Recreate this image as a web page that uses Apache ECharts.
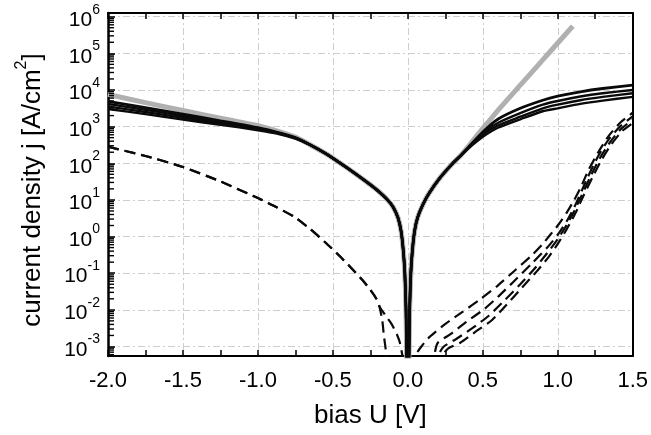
<!DOCTYPE html>
<html>
<head>
<meta charset="utf-8">
<script src="https://cdn.jsdelivr.net/npm/echarts@6/dist/echarts.min.js"></script>
<style>
html,body{margin:0;padding:0;background:#fff;}
#chart{width:651px;height:435px;}
</style>
</head>
<body>
<div id="chart"></div>
<script>
// ---- data (bias U in V, current density j in A/cm^2) ----
const voltsSolid = [-2.0, -1.75, -1.5, -1.25, -1.125, -1.0, -0.875, -0.75, -0.65, -0.55, -0.45, -0.35, -0.25, -0.2, -0.14, -0.1, -0.065, -0.045, -0.03, -0.02, -0.012, -0.006, 0, 0.006, 0.012, 0.02, 0.03, 0.045, 0.065, 0.1, 0.14, 0.21, 0.3, 0.35, 0.4, 0.5, 0.6, 0.75, 0.9, 1.0, 1.15, 1.3, 1.5];
const solidA = [4900, 3310, 2190, 1445, 1175, 933, 708, 501, 316, 186, 100, 52, 26, 17.8, 10.5, 6.6, 3.2, 1.41, 0.4, 0.1, 0.01, 0.0001, 1e-9, 0.0001, 0.01, 0.1, 0.4, 1.41, 3.3, 7.4, 14.8, 38, 100, 158, 263, 708, 1585, 3160, 5250, 6760, 8910, 10960, 13490];
const solidB = [4170, 2880, 1950, 1350, 1100, 891, 692, 490, 316, 186, 100, 52, 26, 17.8, 10.5, 6.6, 3.2, 1.41, 0.4, 0.1, 0.01, 0.0001, 1e-9, 0.0001, 0.01, 0.1, 0.4, 1.41, 3.3, 7.4, 14.8, 38, 100, 158, 257, 660, 1260, 2340, 3980, 5010, 6610, 8130, 10000];
const solidC = [3550, 2510, 1740, 1230, 1020, 851, 676, 479, 316, 186, 100, 52, 26, 17.8, 10.5, 6.6, 3.2, 1.41, 0.4, 0.1, 0.01, 0.0001, 1e-9, 0.0001, 0.01, 0.1, 0.4, 1.41, 3.3, 7.4, 14.8, 38, 100, 158, 251, 600, 1070, 1860, 3160, 3980, 5250, 6460, 8130];
const solidD = [3020, 2190, 1550, 1120, 955, 794, 646, 468, 316, 186, 100, 52, 26, 17.8, 10.5, 6.6, 3.2, 1.41, 0.4, 0.1, 0.01, 0.0001, 1e-9, 0.0001, 0.01, 0.1, 0.4, 1.41, 3.3, 7.4, 14.8, 38, 100, 158, 245, 525, 933, 1585, 2630, 3160, 4170, 5130, 6460];

const voltsGray = [-2.0, -1.75, -1.5, -1.25, -1.125, -1.0, -0.875, -0.75, -0.65, -0.55, -0.45, -0.35, -0.25, -0.2, -0.14, -0.1, -0.065, -0.045, -0.03, -0.02, -0.012, -0.006, 0, 0.006, 0.012, 0.02, 0.03, 0.045, 0.065, 0.1, 0.14, 0.21, 0.3, 0.35, 0.4, 0.45, 0.5, 0.6, 0.75, 0.9, 1.0, 1.1];
const grayJ = [7600, 4500, 2750, 1700, 1340, 1060, 765, 515, 316, 186, 100, 52, 26, 17.8, 10.5, 6.6, 3.2, 1.41, 0.4, 0.1, 0.01, 0.0001, 1e-9, 0.0001, 0.01, 0.1, 0.4, 1.41, 3.3, 7.4, 14.8, 38, 100, 158, 275, 500, 891, 2750, 13500, 66000, 191000, 550000];

const dashNegVoltsA = [-2.0, -1.75, -1.5, -1.25, -1.0, -0.875, -0.75, -0.65, -0.55, -0.45, -0.365, -0.3, -0.25, -0.21, -0.19, -0.17, -0.16, -0.15, -0.14, -0.13];
const dashNegA = [282, 158, 79, 32, 11.2, 6.3, 3.3, 1.58, 0.69, 0.28, 0.123, 0.063, 0.035, 0.02, 0.0126, 0.005, 0.002, 0.001, 0.0004, 0.00001];
const dashNegVoltsB = [-2.0, -1.75, -1.5, -1.25, -1.0, -0.875, -0.75, -0.65, -0.55, -0.45, -0.365, -0.3, -0.25, -0.21, -0.19, -0.15, -0.107, -0.07, -0.053, -0.035, -0.02];
const dashNegB = [282, 158, 79, 32, 11.2, 6.3, 3.3, 1.58, 0.69, 0.28, 0.123, 0.063, 0.035, 0.02, 0.0126, 0.0071, 0.004, 0.002, 0.00126, 0.0005, 0.00001];

const dash1Volts = [0.045, 0.06, 0.1, 0.147, 0.253, 0.367, 0.48, 0.6, 0.71, 0.83, 0.9, 0.95, 1.0, 1.06, 1.11, 1.16, 1.2, 1.27, 1.34, 1.42, 1.5];
const dash1J = [0.00001, 0.00063, 0.00112, 0.00186, 0.0042, 0.0089, 0.019, 0.046, 0.115, 0.316, 0.63, 1.12, 2.0, 4.5, 10, 25, 59, 200, 562, 1320, 2400];
const dash2Volts = [0.17, 0.18, 0.2, 0.29, 0.39, 0.51, 0.6, 0.7, 0.83, 0.93, 1.0, 1.06, 1.11, 1.16, 1.2, 1.27, 1.34, 1.42, 1.5];
const dash2J = [0.00001, 0.00063, 0.00126, 0.00224, 0.0047, 0.0105, 0.0224, 0.056, 0.19, 0.5, 1.12, 2.63, 6.3, 17.8, 42, 158, 450, 1050, 1900];
const dash3Volts = [0.2, 0.21, 0.24, 0.32, 0.43, 0.54, 0.65, 0.75, 0.85, 0.93, 1.0, 1.06, 1.11, 1.16, 1.22, 1.28, 1.35, 1.42, 1.5];
const dash3J = [0.00001, 0.00063, 0.001, 0.00158, 0.00316, 0.0069, 0.019, 0.05, 0.141, 0.355, 0.85, 2.1, 5.0, 13.5, 45, 135, 380, 850, 1550];
const dash4Volts = [0.23, 0.24, 0.27, 0.35, 0.45, 0.56, 0.66, 0.76, 0.86, 0.94, 1.0, 1.06, 1.12, 1.17, 1.23, 1.29, 1.36, 1.43, 1.5];
const dash4J = [0.00001, 0.00063, 0.00089, 0.00126, 0.0025, 0.0052, 0.014, 0.04, 0.112, 0.28, 0.63, 1.6, 4.5, 12.6, 40, 120, 340, 760, 1250];

const xTicks = { min: -2.0, max: 1.5, step: 0.5 };
const yRange = { min: 5.5e-4, max: 1.26e6 };
const yDecades = [-4, -3, -2, -1, 0, 1, 2, 3, 4, 5, 6];
const yMinorMultipliers = [2, 3, 4, 5, 6, 7, 8, 9];

// ---- build ----
function pairs(xs, ys) { return xs.map((x, i) => [x, ys[i]]); }

const FONT = '"Liberation Sans", Arial, Helvetica, sans-serif';
const gridLine = { show: true, lineStyle: { color: '#cdcdcd', width: 1, type: [7, 3, 2, 3] } };

function solid(data, w) {
  return { type: 'line', data: data, showSymbol: false, symbol: 'none', smooth: 0.2,
    lineStyle: { color: '#0a0a0a', width: w }, z: 3, animation: false, silent: true };
}
function dashed(data) {
  return { type: 'line', data: data, showSymbol: false, symbol: 'none', smooth: 0.2,
    lineStyle: { color: '#0a0a0a', width: 2.2, type: [11, 6] }, z: 4, animation: false, silent: true };
}

// minor tick positions of the log axis (axis decoration only)
const minorTickValues = [];
yDecades.forEach(d => yMinorMultipliers.forEach(m => {
  const v = m * Math.pow(10, d);
  if (v > yRange.min && v < yRange.max) minorTickValues.push([xTicks.min, v]);
}));

const series = [
  { type: 'line', data: pairs(voltsGray, grayJ), showSymbol: false, symbol: 'none', smooth: 0.2,
    lineStyle: { color: '#b0b0b0', width: 5, cap: 'butt' }, z: 2, animation: false, silent: true },
  solid(pairs(voltsSolid, solidA), 2.8),
  solid(pairs(voltsSolid, solidB), 2.4),
  solid(pairs(voltsSolid, solidC), 2.4),
  solid(pairs(voltsSolid, solidD), 2.4),
  dashed(pairs(dashNegVoltsA, dashNegA)),
  dashed(pairs(dashNegVoltsB, dashNegB)),
  dashed(pairs(dash1Volts, dash1J)),
  dashed(pairs(dash2Volts, dash2J)),
  dashed(pairs(dash3Volts, dash3J)),
  dashed(pairs(dash4Volts, dash4J)),
  { type: 'scatter', data: minorTickValues, symbol: 'rect', symbolSize: [5, 1.4], symbolOffset: [3.5, 0],
    itemStyle: { color: '#000', opacity: 1 }, silent: true, animation: false, z: 10, clip: false,
    emphasis: { disabled: true } }
];

function yLabel(v) {
  const e = Math.log10(v);
  const r = Math.round(e);
  if (Math.abs(e - r) > 1e-6) return '';
  return '{b|10}{e|' + r + '}';
}

const chart = echarts.init(document.getElementById('chart'), null, { renderer: 'canvas' });
chart.setOption({
  backgroundColor: '#fff',
  animation: false,
  textStyle: { fontFamily: FONT },
  grid: { left: 108, right: 18, top: 13, bottom: 79 },
  xAxis: [
    { type: 'value', min: xTicks.min, max: xTicks.max, interval: xTicks.step, position: 'bottom',
      axisLine: { show: true, onZero: false, lineStyle: { color: '#000', width: 2 } },
      axisTick: { show: true, inside: true, length: 6, lineStyle: { color: '#000', width: 1.5 } },
      minorTick: { show: true, splitNumber: 2, length: 6, lineStyle: { color: '#000', width: 1.5 } },
      axisLabel: { show: true, margin: 14, color: '#000', fontSize: 22, fontFamily: FONT,
        formatter: v => v.toFixed(1) },
      splitLine: gridLine,
      name: 'bias U [V]', nameLocation: 'middle', nameGap: 47,
      nameTextStyle: { color: '#000', fontSize: 26, fontFamily: FONT } },
    { type: 'value', min: xTicks.min, max: xTicks.max, interval: xTicks.step, position: 'top',
      axisLine: { show: true, onZero: false, lineStyle: { color: '#000', width: 2 } },
      axisTick: { show: true, inside: true, length: 6, lineStyle: { color: '#000', width: 1.5 } },
      minorTick: { show: true, splitNumber: 2, length: 6, lineStyle: { color: '#000', width: 1.5 } },
      axisLabel: { show: false }, splitLine: { show: false } }
  ],
  yAxis: [
    { type: 'log', logBase: 10, min: yRange.min, max: yRange.max, position: 'left',
      axisLine: { show: true, onZero: false, lineStyle: { color: '#000', width: 2.5 } },
      axisTick: { show: true, inside: true, length: 7, lineStyle: { color: '#000', width: 1.5 } },
      axisLabel: { show: true, margin: 8, color: '#000', fontFamily: FONT, formatter: yLabel,
        rich: {
          b: { fontSize: 21, fontFamily: FONT, color: '#000', lineHeight: 28, verticalAlign: 'bottom' },
          e: { fontSize: 14, fontFamily: FONT, color: '#000', lineHeight: 14, verticalAlign: 'top' }
        } },
      splitLine: gridLine,
      name: '{n|current density j [A/cm}{s|2}{n|]}', nameLocation: 'middle', nameGap: 62,
      nameTextStyle: { color: '#000', fontFamily: FONT, padding: [0, 11, 0, 0],
        rich: {
          n: { fontSize: 26, fontFamily: FONT, color: '#000', lineHeight: 32, verticalAlign: 'bottom' },
          s: { fontSize: 16, fontFamily: FONT, color: '#000', lineHeight: 16, verticalAlign: 'top' }
        } } },
    { type: 'log', logBase: 10, min: yRange.min, max: yRange.max, position: 'right',
      axisLine: { show: true, onZero: false, lineStyle: { color: '#000', width: 2 } },
      axisTick: { show: false }, axisLabel: { show: false }, splitLine: { show: false } }
  ],
  series: series
});
</script>
</body>
</html>
